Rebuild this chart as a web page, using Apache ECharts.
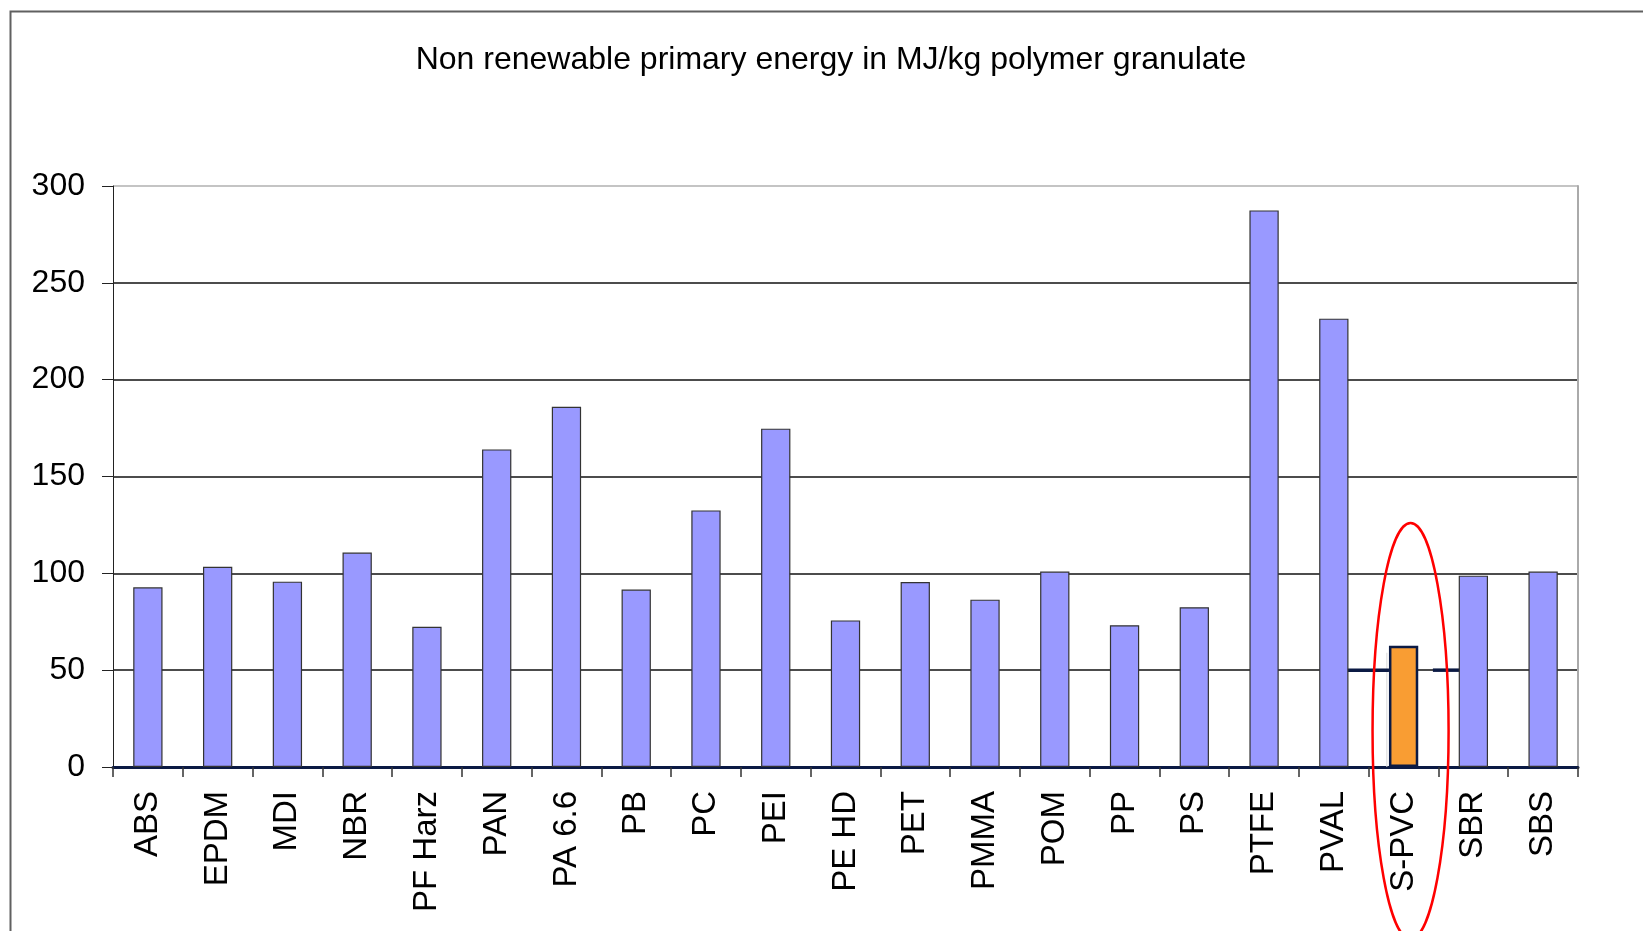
<!DOCTYPE html>
<html>
<head>
<meta charset="utf-8">
<script src="https://cdn.jsdelivr.net/npm/echarts@6/dist/echarts.min.js"></script>
<style>
html,body{margin:0;padding:0;background:#fff;}
#chart{width:1643px;height:931px;}
</style>
</head>
<body>
<div id="chart"></div>
<script>
const titleText = 'Non renewable primary energy in MJ/kg polymer granulate';
const categories = ['ABS','EPDM','MDI','NBR','PF Harz','PAN','PA 6.6','PB','PC','PEI','PE HD','PET','PMMA','POM','PP','PS','PTFE','PVAL','S-PVC','SBR','SBS'];
const values = [92.8, 103.4, 95.7, 110.7, 72.4, 164.0, 186.0, 91.6, 132.5, 174.7, 75.7, 95.5, 86.4, 100.9, 73.2, 82.5, 287.4, 231.5, 62.6, 98.8, 100.9];
const highlightCategory = 'S-PVC';
const referenceValue = 50;
const yTicks = [0, 50, 100, 150, 200, 250, 300];

const FONT = 'Liberation Sans, Arial, sans-serif';
const chart = echarts.init(document.getElementById('chart'), null, {renderer: 'canvas'});

const barData = values.map((v, i) => {
  if (categories[i] === highlightCategory) {
    return {value: v, itemStyle: {color: '#F99D33', borderColor: '#0b1a44', borderWidth: 2.5}};
  }
  return v;
});

const splitColors = yTicks.map((t, i) => i === yTicks.length - 1 ? '#b0b0b0' : '#111');

chart.setOption({
  animation: false,
  backgroundColor: '#fff',
  title: {
    text: titleText,
    left: 826, top: 39, textAlign: 'center',
    textStyle: {fontFamily: FONT, fontSize: 32, fontWeight: 'normal', color: '#000'}
  },
  grid: {left: 113, right: 65, top: 186, bottom: 164, containLabel: false},
  xAxis: {
    type: 'category',
    data: categories,
    axisLine: {show: true, lineStyle: {color: '#0b1a44', width: 3}},
    axisTick: {show: true, length: 10, lineStyle: {color: '#333', width: 1.5}},
    axisLabel: {rotate: 90, fontFamily: FONT, fontSize: 33, color: '#000', margin: 24, interval: 0}
  },
  yAxis: [{
    type: 'value',
    min: 0, max: 300, interval: 50,
    axisLine: {show: true, lineStyle: {color: '#222', width: 1}},
    axisTick: {show: true, length: 11, lineStyle: {color: '#222', width: 1}},
    axisLabel: {fontFamily: FONT, fontSize: 32, color: '#000', margin: 28},
    splitLine: {show: true, lineStyle: {color: splitColors, width: 1.5}}
  }, {
    type: 'value',
    min: 0, max: 300, interval: 50, position: 'right',
    axisLine: {show: true, lineStyle: {color: '#aaa', width: 2}},
    axisTick: {show: false}, axisLabel: {show: false}, splitLine: {show: false}
  }],
  series: [{
    type: 'bar',
    data: barData,
    barWidth: '42%',
    z: 5,
    itemStyle: {color: '#9999FF', borderColor: '#333', borderWidth: 1.2}
  }]
});

function drawAnnotations() {
  const cx = chart.convertToPixel({xAxisIndex: 0}, highlightCategory);
  const idx = categories.indexOf(highlightCategory);
  const bw = chart.convertToPixel({xAxisIndex: 0}, categories[idx + 1]) - cx;
  const yRef = chart.convertToPixel({yAxisIndex: 0}, referenceValue);
  const yTop = chart.convertToPixel({yAxisIndex: 0}, 126);
  const yMid = chart.convertToPixel({yAxisIndex: 0}, 18.6);
  const y0 = chart.convertToPixel({yAxisIndex: 0}, 0);
  const yFaint = chart.convertToPixel({yAxisIndex: 0}, 59);
  chart.setOption({
    graphic: [
      {type: 'rect', left: 8, top: 9, z: 0, silent: true,
       shape: {x: 0, y: 0, width: 1700, height: 1000},
       style: {fill: null, stroke: '#606060', lineWidth: 2}},
      {type: 'line', z: 3, silent: true,
       shape: {x1: cx - 0.24 * bw, y1: yFaint, x2: cx - 0.24 * bw, y2: y0},
       style: {stroke: '#d8d8d8', lineWidth: 1}},
      {type: 'line', z: 4, silent: true,
       shape: {x1: cx - 0.87 * bw, y1: yRef, x2: cx - 0.21 * bw, y2: yRef},
       style: {stroke: '#0b1a44', lineWidth: 3.5}},
      {type: 'line', z: 4, silent: true,
       shape: {x1: cx + 0.42 * bw, y1: yRef, x2: cx + 0.85 * bw, y2: yRef},
       style: {stroke: '#0b1a44', lineWidth: 3.5}},
      {type: 'ellipse', z: 10, silent: true,
       shape: {cx: cx + 0.1 * bw, cy: yMid, rx: 0.545 * bw, ry: yMid - yTop},
       style: {fill: null, stroke: '#ff0000', lineWidth: 2.5}}
    ]
  });
}
drawAnnotations();
</script>
</body>
</html>
